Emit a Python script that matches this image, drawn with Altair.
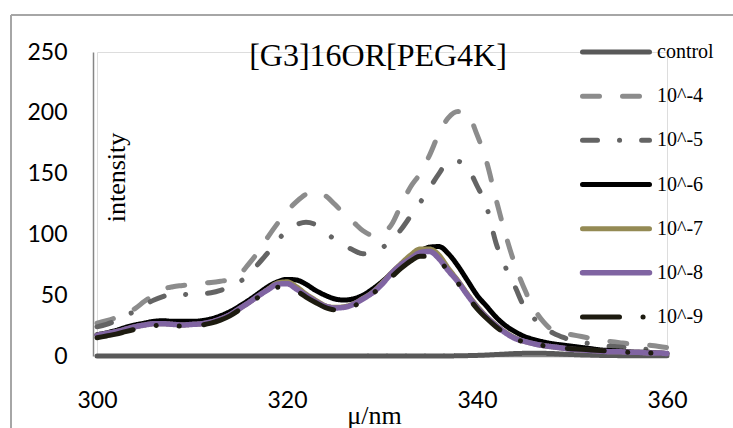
import altair as alt
import pandas as pd

# Excitation wavelength (nm)
wavelength = [300, 301, 302, 303, 304, 305, 306, 307, 308, 309,
              310, 311, 312, 313, 314, 315, 316, 317, 318, 319,
              320, 321, 322, 323, 324, 325, 326, 327, 328, 329,
              330, 331, 332, 333, 334, 335, 336, 337, 338, 339,
              340, 341, 342, 343, 344, 345, 346, 347, 348, 349,
              350, 351, 352, 353, 354, 355, 356, 357, 358, 359, 360]

# Intensity of each sample
control = [0, 0, 0, 0, 0, 0, 0, 0, 0, 0,
           0, 0, 0, 0, 0, 0, 0, 0, 0, 0,
           0, 0, 0, 0, 0, 0, 0, 0, 0, 0,
           0, 0, 0, 0, 0, 0, 0, 0, 0.2, 0.3,
           0.5, 0.8, 1.2, 1.6, 2, 2.2, 2.3, 2.2, 2, 1.6,
           1.2, 0.9, 0.7, 0.5, 0.4, 0.3, 0.3, 0.2, 0.2, 0.2, 0.2]
conc_e4 = [27, 29, 31.5, 35, 39, 45, 50, 55, 57, 58,
           59, 60, 60.5, 61.5, 63, 67, 76, 86, 98, 109,
           119, 127, 133, 135, 132, 125, 117, 110, 103, 99.5,
           101, 108, 124, 139, 150, 165, 183, 196, 201, 199,
           182, 160, 129, 100, 75, 55, 39, 28, 21, 19,
           17.5, 16, 14.5, 13, 12, 11, 10, 9.5, 9, 8, 7]
conc_e5 = [24, 26, 29, 33, 37, 42, 46, 49, 51.5, 51,
           50, 51, 52, 54, 57, 61, 67, 76, 85, 95,
           103, 108, 110, 108, 102, 96, 91, 87, 84, 85,
           89, 95, 104, 115, 126, 138, 150, 160, 160, 155,
           140, 123, 93, 73, 57, 40, 31, 23, 19, 15.5,
           13, 11.5, 10, 9, 8, 7.5, 6.5, 6, 5.5, 5, 4.5]
conc_e6 = [17.5, 19, 21, 23.5, 25.5, 27, 28.5, 29, 28.5, 28.5,
           28.5, 29, 30.5, 33, 36.5, 41, 46, 51.5, 57, 61,
           63, 62.5, 59, 54, 50, 47, 46, 47, 50, 55,
           61, 68, 75, 81, 86, 89.5, 90, 84, 74, 62,
           50, 41, 32, 25, 20, 16, 13.5, 11.5, 10, 9,
           8, 7, 6, 5, 4.5, 4, 3.5, 3, 3, 2.5, 2]
conc_e7 = [17, 18.5, 20, 22, 24, 25.5, 26.5, 26.5, 26, 25.5,
           26, 26.5, 28, 30.5, 34, 39, 44, 49.5, 55, 60,
           61, 57, 51, 46, 41.5, 40, 40.5, 43, 47.5, 52.5,
           60, 68.5, 76, 83, 88, 88, 83, 72, 62, 51,
           41, 32.5, 25.5, 19.5, 15, 12, 10, 8.5, 7.5, 6.5,
           5.5, 5, 4.5, 4, 3.5, 3.5, 3, 3, 2.5, 2.5, 2]
conc_e8 = [17, 18.5, 20, 22, 24, 25.5, 26.5, 26.5, 26, 25.5,
           26, 26.5, 28, 30.5, 34, 39, 44, 49.5, 54.5, 59,
           59.5, 55, 50, 45, 41, 39.5, 40, 42.5, 47, 52,
           59, 68, 75, 80, 85, 86, 80, 70, 61, 50,
           40, 32, 25, 19, 14.5, 12, 10, 8.5, 7.5, 6.5,
           5.5, 5, 4.5, 4, 3.5, 3.5, 3, 3, 2.5, 2.5, 2]
conc_e9 = [15, 16.5, 18, 20, 22, 24, 25, 25.5, 25, 24.5,
           25, 25.5, 27, 29.5, 33, 38, 43, 48.5, 53, 56.5,
           57, 53.5, 48.5, 44, 40, 38, 38.5, 41, 45.5, 51,
           58, 65, 72, 78, 82, 82, 78, 70, 60, 49,
           39, 31, 24, 18.5, 14, 11.5, 9.5, 8.5, 7.5, 6.5,
           6, 5.5, 5, 4.5, 4, 3.5, 3, 3, 2.5, 2.5, 2]

series_names = ["control", "10^-4", "10^-5", "10^-6", "10^-7", "10^-8", "10^-9"]
series_values = [control, conc_e4, conc_e5, conc_e6, conc_e7, conc_e8, conc_e9]
chart_title = "[G3]16OR[PEG4K]"

# Line styles, one per sample
line_colors = ["#595959", "#8c8c8c", "#646464", "#000000", "#948a54", "#8064a2", "#1d1b10"]
line_dashes = [[1, 0], [17, 23], [15, 22, 0.1, 22], [1, 0], [1, 0], [1, 0],
               [37, 23.5, 0.1, 23, 0.1, 24.5]]
line_widths = [5, 5, 5, 5, 5, 5.5, 5]

x_ticks = [300, 320, 340, 360]
y_ticks = [0, 50, 100, 150, 200, 250]

rows = []
for name, vals in zip(series_names, series_values):
    for w, v in zip(wavelength, vals):
        rows.append({"series": name, "wavelength": w, "intensity": v})
df = pd.DataFrame(rows)
legend_df = pd.DataFrame({"series": series_names})
frame_df = pd.DataFrame({"label": [chart_title]})

x_scale = alt.Scale(domain=[300, 360], nice=False, zero=False)
y_scale = alt.Scale(domain=[0, 250], nice=False)

x_axis = alt.Axis(
    values=x_ticks, title="μ/nm", grid=False, ticks=False, tickSize=0,
    labelFlush=False, labelFont="Lato", labelFontSize=23, labelColor="#000000",
    labelPadding=33, domainColor="#868686", domainWidth=1.5,
    titleFont="Liberation Serif", titleFontSize=26, titleFontWeight="normal",
    titleColor="#000000", titleX=277, titleY=59, titleAlign="center",
    titleBaseline="middle",
)
y_axis = alt.Axis(
    values=y_ticks, title="intensity", grid=False, ticks=False, tickSize=0,
    labelFlush=False, offset=4, labelFont="Lato", labelFontSize=23,
    labelColor="#000000", labelPadding=26, domainColor="#868686", domainWidth=1.5,
    titleFont="Liberation Serif", titleFontSize=26, titleFontWeight="normal",
    titleColor="#000000", titleAngle=270, titleX=23, titleY=125,
    titleAlign="center", titleBaseline="middle",
)

line_layers = []
for name, color, dash, width in zip(series_names, line_colors, line_dashes, line_widths):
    line_layers.append(
        alt.Chart(df)
        .transform_filter(alt.datum.series == name)
        .mark_line(color=color, strokeDash=dash, strokeWidth=width,
                   strokeCap="round", strokeJoin="round", interpolate="monotone")
        .encode(
            x=alt.X("wavelength:Q", scale=x_scale, axis=x_axis),
            y=alt.Y("intensity:Q", scale=y_scale, axis=y_axis),
        )
    )

# Outer frame around the figure
frame_left = alt.Chart(frame_df).mark_rule(color="#a6a6a6", strokeWidth=2).encode(
    x=alt.value(-86), y=alt.value(-37), y2=alt.value(390)
)
frame_top = alt.Chart(frame_df).mark_rule(color="#a6a6a6", strokeWidth=2).encode(
    x=alt.value(-86), x2=alt.value(650), y=alt.value(-37)
)

# Title drawn inside the plot area
title_text = alt.Chart(frame_df).mark_text(
    font="Liberation Serif", fontSize=32, color="#000000",
    align="center", baseline="alphabetic",
).encode(x=alt.value(281), y=alt.value(14), text="label:N")

plot_layer = alt.layer(frame_left, frame_top, *line_layers, title_text)

# Legend built from the same style lists
legend_y = alt.Y("series:N", scale=alt.Scale(type="point", domain=series_names,
                                             range=[0, 265], padding=0), axis=None)
legend_layers = []
for name, color, dash, width in zip(series_names, line_colors, line_dashes, line_widths):
    legend_layers.append(
        alt.Chart(legend_df)
        .transform_filter(alt.datum.series == name)
        .mark_rule(color=color, strokeDash=dash, strokeWidth=width, strokeCap="round")
        .encode(x=alt.value(485.5), x2=alt.value(552.5), y=legend_y)
    )
legend_text = alt.Chart(legend_df).mark_text(
    align="left", baseline="middle", font="Liberation Serif", fontSize=20, color="#000000"
).encode(x=alt.value(560), y=legend_y, text="series:N")
legend_layer = alt.layer(*legend_layers, legend_text)

chart = (
    alt.layer(plot_layer, legend_layer)
    .resolve_scale(x="independent", y="independent")
    .properties(
        width=570, height=304,
        autosize="none",
        padding={"left": 97, "top": 52, "right": 66, "bottom": 72},
    )
    .configure_view(stroke=None)
    .configure(background="white")
)

chart.save("out.html", embed_options={"renderer": "svg", "actions": False})
